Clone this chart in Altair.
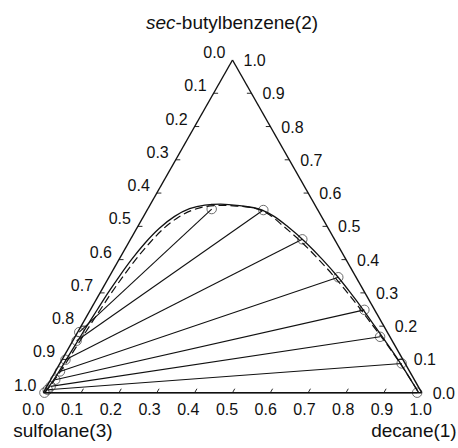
import altair as alt
import pandas as pd

# Tie-line end compositions, mole fractions: x1 = decane, x2 = sec-butylbenzene
raff_x1 = [0.988, 0.903, 0.806, 0.724, 0.606, 0.454, 0.307, 0.169]
raff_x2 = [0.000, 0.088, 0.168, 0.249, 0.347, 0.461, 0.549, 0.552]
ext_x1 = [0.003, 0.007, 0.010, 0.012, 0.012, 0.009, 0.010, 0.004]
ext_x2 = [0.000, 0.009, 0.019, 0.039, 0.064, 0.099, 0.156, 0.182]

# Binodal curve, model 1 (solid)
solid_x1 = [0.003, 0.006, 0.009, 0.011, 0.013, 0.015, 0.018, 0.021, 0.026, 0.033,
            0.044, 0.060, 0.082, 0.110, 0.145, 0.185, 0.238, 0.300, 0.345, 0.395,
            0.470, 0.538, 0.602, 0.662, 0.720, 0.776, 0.832, 0.887, 0.940, 0.992]
solid_x2 = [0.000, 0.020, 0.050, 0.100, 0.150, 0.200, 0.250, 0.300, 0.350, 0.400,
            0.450, 0.495, 0.530, 0.553, 0.564, 0.567, 0.562, 0.550, 0.530, 0.500,
            0.450, 0.400, 0.350, 0.300, 0.250, 0.200, 0.150, 0.100, 0.050, 0.000]

# Binodal curve, model 2 (dashed)
dash_x1 = [0.004, 0.008, 0.012, 0.016, 0.019, 0.022, 0.026, 0.030, 0.036, 0.044,
           0.056, 0.072, 0.094, 0.120, 0.152, 0.190, 0.230, 0.280, 0.330, 0.385,
           0.460, 0.528, 0.593, 0.654, 0.714, 0.772, 0.830, 0.886, 0.940, 0.992]
dash_x2 = [0.000, 0.020, 0.050, 0.100, 0.150, 0.200, 0.250, 0.300, 0.350, 0.400,
           0.450, 0.495, 0.528, 0.549, 0.560, 0.563, 0.561, 0.555, 0.535, 0.500,
           0.450, 0.400, 0.350, 0.300, 0.250, 0.200, 0.150, 0.100, 0.050, 0.000]

tick_values = [round(0.1 * i, 1) for i in range(11)]
tick_labels = [f"{v:.1f}" for v in tick_values]

FONT = "Liberation Sans"
INK = "#111111"
TICK_LEN = 0.012


def to_xy(x1, x2):
    """Ternary composition -> planar coordinates (sulfolane vertex at origin)."""
    return x1 + x2 / 2.0, x2


xs = alt.Scale(domain=[-0.11443, 1.09593], nice=False, zero=False)
ys = alt.Scale(domain=[-0.1662, 1.1803], nice=False, zero=False)


def seg_frame(pairs):
    rows = []
    for (a1, a2), (b1, b2) in pairs:
        xa, ya = to_xy(a1, a2)
        xb, yb = to_xy(b1, b2)
        rows.append({"x": xa, "y": ya, "x2": xb, "y2": yb})
    return pd.DataFrame(rows)


def rules(df, width):
    return alt.Chart(df).mark_rule(color=INK, strokeWidth=width).encode(
        x=alt.X("x:Q", scale=xs, axis=None),
        y=alt.Y("y:Q", scale=ys, axis=None),
        x2="x2:Q",
        y2="y2:Q",
    )


# Triangle frame
frame = seg_frame([((0, 0), (1, 0)), ((1, 0), (0, 1)), ((0, 1), (0, 0))])

# Axis ticks, drawn inward along iso-lines
tick_pairs = []
for v in tick_values[1:-1]:
    tick_pairs.append(((v, 0), (v, TICK_LEN)))                 # decane axis
    tick_pairs.append(((0, 1 - v), (TICK_LEN, 1 - v)))         # sulfolane axis
    tick_pairs.append(((1 - v, v), (1 - v - TICK_LEN, v)))     # sec-butylbenzene axis
ticks = seg_frame(tick_pairs)

ties = seg_frame([((ex1, ex2), (rx1, rx2)) for ex1, ex2, rx1, rx2
                  in zip(ext_x1, ext_x2, raff_x1, raff_x2)])


def curve_frame(c1, c2):
    rows = []
    for i, (a, b) in enumerate(zip(c1, c2)):
        x, y = to_xy(a, b)
        rows.append({"x": x, "y": y, "i": i})
    return pd.DataFrame(rows)


def curve(df, dash=None, width=1.3):
    kw = {"color": INK, "strokeWidth": width, "interpolate": "monotone"}
    if dash:
        kw["strokeDash"] = dash
    return alt.Chart(df).mark_line(**kw).encode(
        x=alt.X("x:Q", scale=xs, axis=None),
        y=alt.Y("y:Q", scale=ys, axis=None),
        order="i:Q",
    )


pts_rows = []
for a, b in list(zip(ext_x1, ext_x2)) + list(zip(raff_x1, raff_x2)):
    x, y = to_xy(a, b)
    pts_rows.append({"x": x, "y": y})
points = alt.Chart(pd.DataFrame(pts_rows)).mark_point(
    shape="circle", filled=False, size=90, color="#1a1a1a", strokeWidth=0.9
).encode(
    x=alt.X("x:Q", scale=xs, axis=None),
    y=alt.Y("y:Q", scale=ys, axis=None),
)

# Tick labels
bottom_rows, left_rows, right_rows = [], [], []
for v, lab in zip(tick_values, tick_labels):
    x, y = to_xy(v, 0)
    bottom_rows.append({"x": x, "y": y, "t": lab, "dx": -9 * (1 - v) - 1})
    x, y = to_xy(0, 1 - v)
    left_rows.append({"x": x, "y": y, "t": lab})
    x, y = to_xy(1 - v, v)
    right_rows.append({"x": x, "y": y, "t": lab})


def labels(rows, align, dx, dy):
    return alt.Chart(pd.DataFrame(rows)).mark_text(
        font=FONT, fontSize=16, color=INK, align=align, baseline="middle",
        dx=dx, dy=dy,
    ).encode(
        x=alt.X("x:Q", scale=xs, axis=None),
        y=alt.Y("y:Q", scale=ys, axis=None),
        text="t:N",
    )


bottom_parts = []
for r in bottom_rows:
    bottom_parts.append(labels([r], "center", r["dx"], 17))
left_lab = labels(left_rows, "right", -7, -7)
right_lab = labels(right_rows, "left", 11, 1)

# Component names at the vertices
ax, ay = to_xy(0, 1)
top_sec = alt.Chart(pd.DataFrame([{"x": ax, "y": ay, "t": "sec"}])).mark_text(
    font=FONT, fontSize=19, fontStyle="italic", color=INK, align="right",
    baseline="middle", dx=-57, dy=-37,
).encode(x=alt.X("x:Q", scale=xs, axis=None), y=alt.Y("y:Q", scale=ys, axis=None), text="t:N")
top_rest = alt.Chart(pd.DataFrame([{"x": ax, "y": ay, "t": "-butylbenzene(2)"}])).mark_text(
    font=FONT, fontSize=19, color=INK, align="left", baseline="middle", dx=-57, dy=-37,
).encode(x=alt.X("x:Q", scale=xs, axis=None), y=alt.Y("y:Q", scale=ys, axis=None), text="t:N")

sx, sy = to_xy(0, 0)
sulf = alt.Chart(pd.DataFrame([{"x": sx, "y": sy, "t": "sulfolane(3)"}])).mark_text(
    font=FONT, fontSize=19, color=INK, align="left", baseline="middle", dx=-30, dy=38,
).encode(x=alt.X("x:Q", scale=xs, axis=None), y=alt.Y("y:Q", scale=ys, axis=None), text="t:N")

dx_, dy_ = to_xy(1, 0)
dec = alt.Chart(pd.DataFrame([{"x": dx_, "y": dy_, "t": "decane(1)"}])).mark_text(
    font=FONT, fontSize=19, color=INK, align="right", baseline="middle", dx=35, dy=38,
).encode(x=alt.X("x:Q", scale=xs, axis=None), y=alt.Y("y:Q", scale=ys, axis=None), text="t:N")

chart = alt.layer(
    rules(frame, 1.4),
    rules(ticks, 0.9),
    rules(ties, 1.1),
    curve(curve_frame(dash_x1, dash_x2), dash=[8, 4], width=1.2),
    curve(curve_frame(solid_x1, solid_x2), width=1.3),
    points,
    *bottom_parts,
    left_lab,
    right_lab,
    top_sec,
    top_rest,
    sulf,
    dec,
).properties(
    width=458, height=448, padding=0, autosize="none", background="white"
).configure_view(stroke=None)

chart.save("out.html", embed_options={"renderer": "svg", "actions": False})
